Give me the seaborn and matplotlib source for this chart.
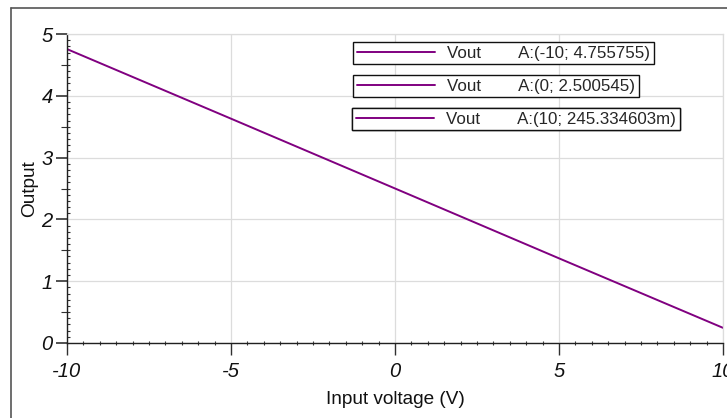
import matplotlib
matplotlib.use("Agg")
import matplotlib.pyplot as plt
import seaborn as sns
import pandas as pd
import numpy as np
from matplotlib.lines import Line2D
from matplotlib.ticker import MultipleLocator

# Data
vin = [-10, -5, 0, 5, 10]
vout = [4.755755, 3.63, 2.500545, 1.37, 0.245334603]
xticks = [-10, -5, 0, 5, 10]
yticks = [0, 1, 2, 3, 4, 5]
yhalf_ticks = [0.5, 1.5, 2.5, 3.5, 4.5]
legend_labels = ["Vout        A:(-10; 4.755755)",
                 "Vout        A:(0; 2.500545)",
                 "Vout        A:(10; 245.334603m)"]

sns.set_theme(style="white")
plt.rcParams['font.family'] = ['Liberation Sans', 'DejaVu Sans']

W, H = 727, 418
fig = plt.figure(figsize=(W/100, H/100), dpi=100)
ax = fig.add_axes([67/W, 1-343/H, (723-67)/W, (343-34)/H])

df = pd.DataFrame({"x": vin, "y": vout})
purple = "#800080"
sns.lineplot(data=df, x="x", y="y", ax=ax, color=purple, linewidth=1.4)

ax.set_xlim(-10, 10)
ax.set_ylim(0, 5)
ax.set_xticks(xticks)
ax.set_yticks(yticks)
ax.set_xticklabels([str(t) for t in xticks], fontstyle='italic', fontsize=14.5)
ax.set_yticklabels([str(t) for t in yticks], fontstyle='italic', fontsize=14.5)
ax.xaxis.set_minor_locator(MultipleLocator(0.5))
ax.yaxis.set_minor_locator(MultipleLocator(0.1))

ax.grid(True, which='major', color='#dcdcdc', linewidth=0.9)
ax.tick_params(axis='x', which='major', direction='out', length=8.6, width=1.0,
               color='#303030', pad=5, bottom=True)
ax.tick_params(axis='y', which='major', direction='out', length=7.8, width=1.4,
               color='#505050', pad=2.5, left=True)
ax.tick_params(axis='x', which='minor', direction='inout', length=3, width=0.8,
               color='#303030', bottom=True)
ax.tick_params(axis='y', which='minor', direction='in', length=2.5, width=0.8,
               color='#303030', left=True)
ax.tick_params(labelcolor='#111111')

# half-unit ticks on the y axis (outward, medium)
sec = ax.secondary_yaxis(location=0)
sec.set_yticks(yhalf_ticks)
sec.set_yticklabels([])
sec.tick_params(axis='y', direction='out', length=4, width=0.8, color='#303030')
sec.spines['left'].set_visible(False)

for s in ['left', 'bottom']:
    ax.spines[s].set_color('#202020')
    ax.spines[s].set_linewidth(1.0)
for s in ['top', 'right']:
    ax.spines[s].set_color('#dcdcdc')
    ax.spines[s].set_linewidth(0.9)

ax.set_xlabel("Input voltage (V)", fontsize=13.7, color='#111111', labelpad=7.5)
ax.set_ylabel("Output", fontsize=13.7, color='#111111', labelpad=2.5)

# Legends (three separate boxes)
tops = [42, 75, 108]
lefts = [353, 353, 352]
for lab, top, left in zip(legend_labels, tops, lefts):
    h = Line2D([], [], color=purple, linewidth=1.4)
    leg = ax.legend([h], [lab], loc='upper left',
                    bbox_to_anchor=(left/W, 1-top/H), bbox_transform=fig.transFigure,
                    borderaxespad=0, borderpad=0.22, handlelength=4.6,
                    handletextpad=0.75, fontsize=12.2, frameon=True, fancybox=False,
                    framealpha=1, edgecolor='#111111')
    leg.get_frame().set_linewidth(1.0)
    ax.add_artist(leg)

# outer frame (left and top edges visible)
fig.add_artist(Line2D([11/W, 11/W], [0, 1-8/H], transform=fig.transFigure,
                      color='#555555', linewidth=1.2))
fig.add_artist(Line2D([11/W, 1], [1-8/H, 1-8/H], transform=fig.transFigure,
                      color='#555555', linewidth=1.2))

fig.savefig("out.png", dpi=100)
